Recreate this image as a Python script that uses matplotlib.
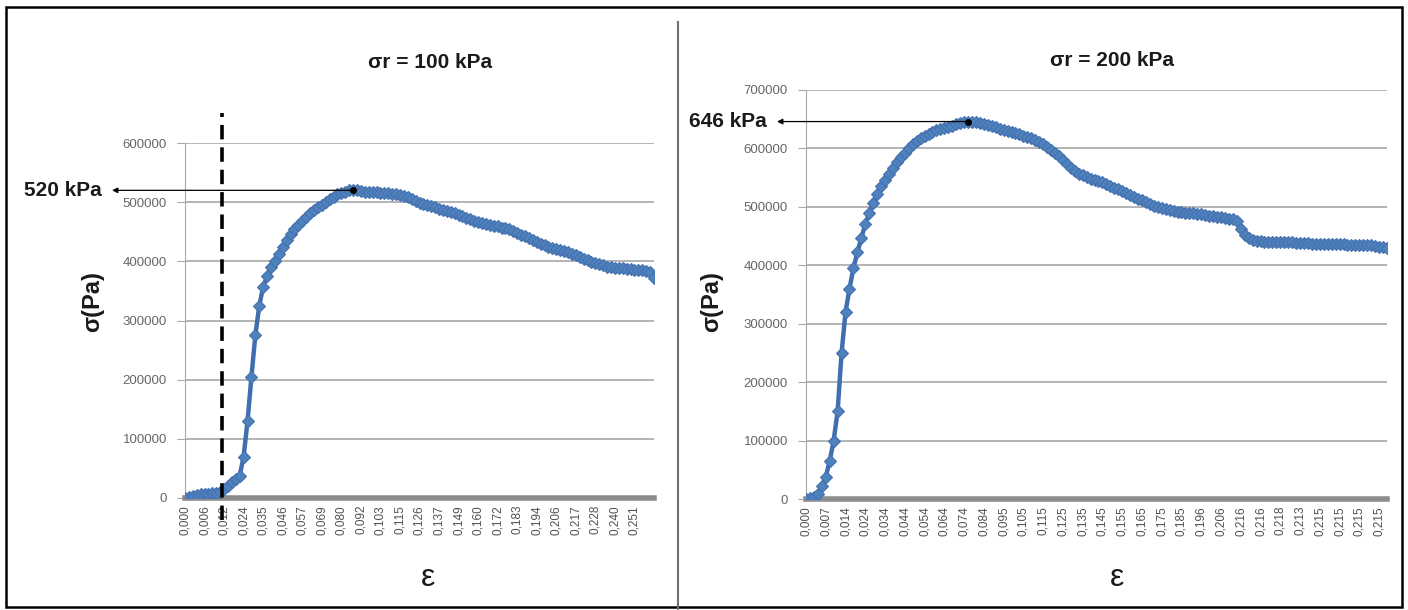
import matplotlib
matplotlib.use("Agg")
import matplotlib.pyplot as plt
from matplotlib.patches import Rectangle
from matplotlib.lines import Line2D
from matplotlib.transforms import blended_transform_factory

plt.rcParams["font.family"] = ["Liberation Sans", "DejaVu Sans"]

# one tick label every LABEL_STEP points (Excel category axis)
LABEL_STEP = 5

# ---- sigma_r = 100 kPa ----
strain_labels_100 = [
    "0,000", "0,006", "0,012", "0,024", "0,035", "0,046", "0,057", "0,069",
    "0,080", "0,092", "0,103", "0,115", "0,126", "0,137", "0,149", "0,160",
    "0,172", "0,183", "0,194", "0,206", "0,217", "0,228", "0,240", "0,251",
]
stress_100 = [
    0, 2000, 4000, 5000, 6000, 7000, 7500, 8000, 9000, 10000,
    15000, 21000, 27000, 32000, 38000, 70000, 130000, 205000, 275000, 325000,
    357000, 375000, 390000, 401000, 412000, 424000, 436000, 446000, 454000, 462000,
    469000, 475000, 481000, 486000, 491000, 496000, 500000, 505000, 509000, 513000,
    516000, 518000, 520000, 521000, 520000, 519000, 518000, 518000, 517000, 517000,
    516000, 516000, 515000, 514000, 513000, 512000, 510000, 508000, 505000, 502000,
    499000, 497000, 495000, 493000, 491000, 489000, 487000, 485000, 483000, 481000,
    479000, 477000, 474000, 471000, 469000, 466000, 464000, 463000, 462000, 460000,
    459000, 457000, 456000, 454000, 451000, 448000, 445000, 442000, 439000, 436000,
    433000, 430000, 428000, 425000, 423000, 421000, 420000, 418000, 415000, 412000,
    410000, 407000, 404000, 402000, 399000, 397000, 395000, 393000, 391000, 390000,
    389000, 388000, 388000, 387000, 387000, 386000, 386000, 385000, 384000, 382000,
    372000,
]
peak_100 = 520
yield_idx_100 = 9.5

# ---- sigma_r = 200 kPa ----
strain_labels_200 = [
    "0,000", "0,007", "0,014", "0,024", "0,034", "0,044", "0,054", "0,064",
    "0,074", "0,084", "0,095", "0,105", "0,115", "0,125", "0,135", "0,145",
    "0,155", "0,165", "0,175", "0,185", "0,196", "0,206", "0,216", "0,216",
    "0,218", "0,213", "0,215", "0,215", "0,215", "0,215",
]
stress_200 = [
    0, 1000, 3000, 9000, 22000, 38000, 65000, 100000, 150000, 250000,
    320000, 360000, 395000, 422000, 447000, 470000, 490000, 507000, 522000, 535000,
    546000, 556000, 566000, 577000, 585000, 593000, 600000, 607000, 612000, 617000,
    621000, 625000, 628000, 631000, 633000, 635000, 637000, 639000, 641000, 643000,
    645000, 646000, 646000, 645000, 644000, 642000, 640000, 638000, 636000, 634000,
    632000, 630000, 628000, 626000, 624000, 622000, 620000, 617000, 614000, 611000,
    607000, 603000, 598000, 593000, 587000, 580000, 573000, 566000, 561000, 557000,
    554000, 551000, 548000, 546000, 544000, 542000, 539000, 536000, 533000, 530000,
    527000, 524000, 521000, 517000, 514000, 511000, 508000, 505000, 502000, 500000,
    498000, 496000, 494000, 493000, 492000, 491000, 490000, 490000, 489000, 488000,
    487000, 486000, 485000, 484000, 483000, 482000, 481000, 480000, 479000, 475000,
    462000, 452000, 447000, 444000, 442000, 441000, 440000, 440000, 439000, 439000,
    439000, 439000, 439000, 439000, 438000, 438000, 438000, 438000, 437000, 437000,
    437000, 436000, 436000, 436000, 436000, 436000, 436000, 435000, 435000, 435000,
    434000, 434000, 434000, 434000, 433000, 432000, 431000, 430000,
]
peak_200 = 646

W, H = 1408, 610
fig = plt.figure(figsize=(W / 100, H / 100), dpi=100)


def px_box(x0, y0, x1, y1):
    return [x0 / W, 1 - y1 / H, (x1 - x0) / W, (y1 - y0) / H]


def draw_panel(ax, values, labels, ymax, title, title_xy, ylab_xy, eps_xy,
               peak_kpa, text_right_px, tip_px):
    n = len(values)
    ax.plot(range(n), values, color="#3f6fae", lw=3.2, marker="D", ms=6.5,
            mfc="#4f81bd", mec="#4471b0", mew=0.8, zorder=3)
    ax.set_xlim(0, n - 1)
    ax.set_ylim(0, ymax)
    ax.set_yticks(range(0, ymax + 1, 100000))
    ax.set_yticklabels([str(v) for v in range(0, ymax + 1, 100000)])
    ax.yaxis.grid(True, color="#a8a8a8", lw=1.2)
    ax.set_axisbelow(True)
    ax.set_xticks(range(0, n, LABEL_STEP)[:len(labels)])
    ax.set_xticklabels(labels, rotation=90, fontsize=8.5, color="#505050")
    ax.tick_params(axis="x", length=0, pad=5)
    ax.tick_params(axis="y", length=6, color="#a8a8a8", labelsize=9.5,
                   labelcolor="#666666", pad=7)
    for s in ("top", "right"):
        ax.spines[s].set_visible(False)
    ax.spines["left"].set_color("#a8a8a8")
    ax.spines["bottom"].set_color("#8c8c8c")
    ax.spines["bottom"].set_linewidth(4)

    # peak marker + arrow pointing to the value label
    ipk = max(range(n), key=lambda i: values[i])
    pk = peak_kpa * 1000
    ax.plot(ipk, pk, "o", color="black", ms=4, zorder=5)
    tr = blended_transform_factory(fig.transFigure, ax.transData)
    ax.annotate("", xy=(tip_px / W, pk), xycoords=tr,
                xytext=(ipk, pk), textcoords="data",
                arrowprops=dict(arrowstyle="-|>", color="black", lw=0.9,
                                mutation_scale=8, shrinkA=0, shrinkB=0),
                annotation_clip=False)
    fig.text(text_right_px / W, pk, f"{peak_kpa} kPa", transform=tr,
             ha="right", va="center", fontsize=15, fontweight="bold",
             color="#1a1a1a")
    fig.text(*title_xy, title, ha="center", va="center", fontsize=15,
             fontweight="bold", color="#1a1a1a")
    fig.text(*ylab_xy, "σ(Pa)", ha="center", va="center", rotation=90,
             fontsize=17, fontweight="bold", color="#1a1a1a")
    fig.text(*eps_xy, "ε", ha="center", va="center", fontsize=23,
             color="#1a1a1a")


ax1 = fig.add_axes(px_box(185, 143, 654, 498))
draw_panel(ax1, stress_100, strain_labels_100, 600000, "σr = 100 kPa",
           (430 / W, 1 - 62 / H), (93 / W, 1 - 302 / H), (428 / W, 1 - 578 / H),
           peak_100, 102, 112)
ax1.plot([yield_idx_100, yield_idx_100], [-37000, 650000], color="black",
         lw=2.6, ls=(0, (4, 2.2)), clip_on=False, zorder=4)

ax2 = fig.add_axes(px_box(806, 90, 1387, 499))
draw_panel(ax2, stress_200, strain_labels_200, 700000, "σr = 200 kPa",
           (1112 / W, 1 - 60 / H), (712 / W, 1 - 302 / H), (1117 / W, 1 - 578 / H),
           peak_200, 767, 777)

# outer frame and panel divider
fig.add_artist(Rectangle((6 / W, 3 / H), (1402 - 6) / W, (607 - 7) / H,
                         transform=fig.transFigure, fill=False, ec="black", lw=1.8))
fig.add_artist(Line2D([678 / W, 678 / W], [0.0, 1 - 22 / H],
                      transform=fig.transFigure, color="#707070", lw=1.5))

fig.savefig("out.png", dpi=100)
